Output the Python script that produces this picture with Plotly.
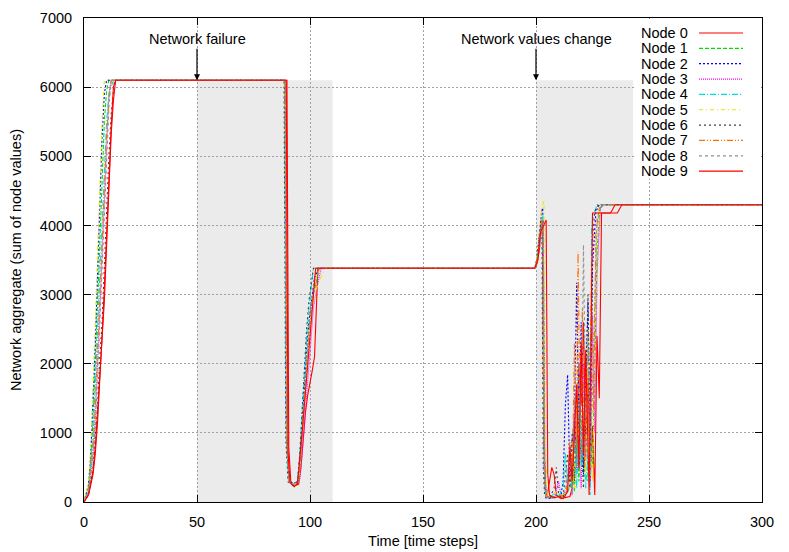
import plotly.graph_objects as go

# ---------------- data ----------------
node_names = ["Node 0", "Node 1", "Node 2", "Node 3", "Node 4",
              "Node 5", "Node 6", "Node 7", "Node 8", "Node 9"]

x_ticks = [0, 50, 100, 150, 200, 250, 300]
y_ticks = [0, 1000, 2000, 3000, 4000, 5000, 6000, 7000]

event_labels = ["Network failure", "Network values change"]
event_times = [50, 200]
event_level = 6100
shade_start = [50, 200]
shade_end = [110, 243]

node0_t = [0, 2, 4, 5, 6, 7, 8, 9, 10, 11, 12, 13, 14,
           89.8, 90.6, 91.5, 93, 95, 96, 97, 98, 99, 100, 101, 102, 103.5,
           199.5, 200.5, 201.5, 202.3, 202.8, 203.5, 204.3, 205, 206, 207, 208, 209, 211, 213, 215,
           216, 217, 218, 219, 220, 221, 222, 223, 224, 225, 226, 227, 228, 229, 236, 238, 300]
node0_v = [0, 120, 450, 800, 1300, 1850, 2450, 2900, 3700, 4500, 5300, 5800, 6100,
           6100, 800, 300, 230, 260, 500, 900, 1300, 1550, 1700, 1900, 2100, 3380,
           3380, 3450, 3650, 4080, 4000, 900, 120, 100, 300, 500, 400, 100, 50, 60, 80,
           200, 1200, 600, 2000, 1400, 2600, 900, 1800, 300, 1100, 100, 2400, 1500, 4180, 4180, 4300, 4300]

node1_t = [0, 2, 3, 4, 5, 6, 7, 8, 9, 10, 11,
           89.0, 89.8, 90.8, 93, 95, 96, 97, 98, 99, 100, 101, 103, 104,
           199.5, 200.5, 201.5, 202.5, 203.2, 203.8, 204.5, 207, 209, 211, 213, 215, 216, 217,
           218, 219, 220, 221, 222, 223, 224, 225, 226, 227, 228, 229.5, 300]
node1_v = [0, 200, 600, 1200, 2000, 2900, 3800, 4700, 5500, 5950, 6100,
           6100, 900, 300, 250, 300, 700, 1300, 1800, 2300, 2700, 2950, 3200, 3380,
           3380, 3500, 3750, 4050, 4100, 600, 80, 60, 90, 70, 120, 200, 600, 150,
           900, 300, 1200, 400, 1500, 300, 1100, 500, 2000, 3600, 4200, 4300, 4300]

node2_t = [0, 2, 3, 4, 5, 6, 7, 8, 9, 10,
           88.8, 89.6, 90.6, 92.5, 94.5, 95.5, 96.5, 97.5, 98.5, 99.5, 100.5, 102, 104,
           199.5, 200.5, 201.5, 202.5, 203, 203.6, 204.3, 207, 209, 211, 212, 213, 214, 215,
           216, 217, 218, 219, 220, 221, 222, 223, 224, 225, 226.5, 228, 300]
node2_v = [0, 250, 700, 1400, 2300, 3300, 4300, 5300, 5900, 6100,
           6100, 1000, 320, 260, 300, 650, 1150, 1700, 2200, 2600, 2900, 3250, 3380,
           3380, 3550, 3900, 4200, 4250, 500, 60, 50, 100, 80, 300, 1400, 1840, 300,
           900, 1200, 3170, 1000, 2600, 400, 1700, 2900, 600, 3400, 4200, 4300, 4300]

node3_t = [0, 2, 4, 5, 6, 7, 8, 9, 10, 11, 12,
           89.2, 90, 91, 93, 95.5, 96.5, 97.5, 98.5, 99.5, 100.5, 101.5, 103, 105,
           199.5, 200.5, 201.5, 202.5, 203.2, 204, 205, 208, 210, 211, 213, 215, 216, 217,
           218, 219, 220, 221, 222, 223, 224, 225, 226, 227, 228.5, 230, 300]
node3_v = [0, 150, 700, 1200, 2000, 2800, 3600, 4500, 5300, 5900, 6100,
           6100, 900, 300, 240, 320, 700, 1100, 1500, 2000, 2400, 2800, 3100, 3380,
           3380, 3480, 3700, 4000, 4050, 300, 60, 70, 300, 100, 80, 500, 100, 1300,
           400, 800, 200, 2000, 600, 1500, 200, 2700, 1000, 3300, 4250, 4300, 4300]

node4_t = [0, 2, 4, 5, 6, 7, 8, 9, 10, 11, 13,
           88.7, 89.5, 90.5, 92.5, 94.5, 95.5, 96.5, 97.5, 98.5, 99.5, 100.5, 101.5,
           199.5, 200.5, 201.5, 202.5, 203, 203.5, 204.2, 206, 208, 210, 212, 213, 214, 216,
           217, 218, 219, 220, 221, 222, 223, 224, 224.6, 225.5, 227, 300]
node4_v = [0, 180, 900, 1600, 2500, 3300, 4100, 4900, 5500, 5900, 6100,
           6100, 900, 300, 250, 300, 700, 1300, 1900, 2400, 2800, 3100, 3380,
           3380, 3520, 3800, 4100, 4150, 700, 90, 60, 120, 80, 200, 700, 150, 300,
           900, 200, 1400, 500, 1100, 200, 700, 100, 4000, 4150, 4300, 4300]

node5_t = [0, 2, 3, 4, 5, 6, 7, 8, 9,
           89.0, 89.8, 90.8, 93, 95, 96, 97, 98, 99, 100, 101.5, 103, 106.5,
           199.5, 200.5, 201.5, 202.5, 203.5, 204.2, 205, 207, 209, 211, 213, 215, 216, 217,
           218, 219, 220, 221, 222, 223, 224, 225, 226, 227, 228.5, 300]
node5_v = [0, 280, 800, 1600, 2600, 3600, 4600, 5500, 6100,
           6100, 800, 280, 240, 320, 750, 1250, 1750, 2200, 2600, 2900, 3100, 3380,
           3380, 3550, 3950, 4250, 4370, 800, 100, 80, 150, 60, 100, 300, 900, 200,
           1500, 700, 2100, 900, 400, 2500, 1000, 300, 2200, 3800, 4300, 4300]

node6_t = [0, 2, 4, 5, 6, 7, 8, 9, 10, 11, 12, 13, 13.5,
           88.5, 89.3, 90.3, 92.5, 94.5, 95.5, 96.5, 97.5, 98.5, 99.5, 100.5, 101.5,
           199.5, 200.3, 201, 202, 202.6, 203.2, 203.8, 206, 208, 209, 210, 212, 214, 215, 216,
           217, 218, 219, 220, 221, 222, 223, 224, 225, 226, 227.5, 300]
node6_v = [0, 100, 500, 900, 1400, 2100, 2600, 3400, 4300, 5000, 5600, 6000, 6100,
           6100, 900, 290, 240, 300, 700, 1300, 1900, 2500, 2900, 3150, 3380,
           3380, 3450, 3700, 4000, 4050, 500, 100, 50, 200, 500, 100, 60, 700, 200, 1000,
           300, 1700, 500, 900, 200, 1200, 3000, 800, 3800, 4200, 4300, 4300]

node7_t = [0, 2, 4, 5, 6, 7, 8, 9, 10, 11, 12,
           89.1, 89.9, 90.9, 93, 95, 96, 97, 98, 99, 100, 101, 102.5, 104,
           199.5, 200.5, 201.5, 202.5, 203, 203.6, 204.4, 207, 209, 211, 213, 214, 215, 216,
           217, 218, 218.6, 219.5, 220.5, 221.5, 222.5, 223.5, 224.5, 225.5, 226.5, 228, 230, 300]
node7_v = [0, 160, 800, 1400, 2200, 3000, 3800, 4600, 5300, 5800, 6100,
           6100, 850, 300, 250, 300, 650, 1150, 1650, 2150, 2550, 2900, 3200, 3380,
           3380, 3500, 3750, 4050, 4080, 600, 80, 70, 60, 100, 90, 300, 900, 200,
           2300, 900, 3620, 1200, 2800, 500, 1900, 700, 3200, 1300, 3900, 4250, 4300, 4300]

node8_t = [0, 2, 4, 5, 6, 7, 8, 9, 10, 11, 12,
           88.9, 89.7, 90.7, 93, 95, 96, 97, 98, 99, 100, 101, 102, 103,
           199.5, 200.5, 201.5, 202.5, 203.2, 203.9, 204.6, 207, 209, 211, 213, 215, 216, 217,
           218, 219, 220, 221, 222, 223, 224, 225, 226, 227, 229, 300]
node8_v = [0, 140, 650, 1100, 1800, 2600, 3400, 4200, 5000, 5700, 6100,
           6100, 900, 300, 250, 290, 700, 1250, 1800, 2300, 2700, 3000, 3250, 3380,
           3380, 3460, 3650, 3950, 4000, 400, 70, 60, 80, 90, 150, 700, 100, 1500,
           500, 2000, 600, 3720, 1200, 2400, 400, 1600, 3000, 4100, 4300, 4300]

node9_t = [0, 2, 4, 5, 6, 7, 8, 9, 10, 11, 12, 13, 14,
           89.5, 90.3, 91.2, 93, 94.5, 95.5, 96.5, 97.5, 98.5, 99.5, 100.5, 101.5, 102.5,
           199.5, 200.8, 202, 204.5, 205.2, 206, 208, 210, 212, 214, 215, 216, 218, 219,
           220, 221, 222, 223.5, 225, 233, 235, 300]
node9_v = [0, 100, 400, 700, 1150, 1700, 2400, 3100, 3900, 4700, 5400, 6000, 6100,
           6100, 700, 280, 220, 270, 600, 1000, 1400, 1800, 2200, 2500, 2900, 3380,
           3380, 3500, 3900, 4080, 400, 100, 60, 80, 50, 150, 800, 300, 1700, 500,
           2300, 700, 2200, 100, 4180, 4180, 4300, 4300]

node_t = [node0_t, node1_t, node2_t, node3_t, node4_t,
          node5_t, node6_t, node7_t, node8_t, node9_t]
node_v = [node0_v, node1_v, node2_v, node3_v, node4_v,
          node5_v, node6_v, node7_v, node8_v, node9_v]

# ---------------- styles ----------------
colors = ["#ff0000", "#00e000", "#0000ff", "#ff00ff", "#00e0e0",
          "#e8e800", "#404040", "#ff7000", "#909090", "#ff0000"]
dashes = ["solid", "4px,2px", "2px,2px", "1px,1px", "6px,2px,1px,2px",
          "4px,3px,1px,3px", "2px,3px", "6px,2px,1px,2px,1px,2px", "3px,3px", "solid"]

FONT = "Liberation Sans, Arial, Helvetica, sans-serif"
FS = 14.5

# the page body adds an 8px offset; figure sized to fill the rest of the window
OFF = 8
W, H = 789 - OFF, 552 - OFF
# plot-area edges in window pixels
L, R, T, B = 84, 762, 18, 502


def px(xp):
    return (xp - L) / (R - L)


def py(yp):
    return (B - yp) / (B - T)


fig = go.Figure()

shapes = []
for s0, s1 in zip(shade_start, shade_end):
    shapes.append(dict(type="rect", xref="x", yref="y", x0=s0, x1=s1, y0=0, y1=event_level,
                       fillcolor="#ebebeb", line=dict(width=0), layer="below"))

for i, name in enumerate(node_names):
    fig.add_trace(go.Scatter(x=node_t[i], y=node_v[i], mode="lines", name=name,
                             showlegend=False,
                             line=dict(color=colors[i], width=1.1, dash=dashes[i])))

# manual gnuplot-style legend (text left, sample right)
shapes.append(dict(type="rect", xref="paper", yref="paper", x0=px(634), x1=px(761.5),
                   y0=py(179), y1=py(18.5), fillcolor="white", line=dict(width=0), layer="above"))
annotations = []
row0, drow = 33, 15.35
for i, name in enumerate(node_names):
    yy = row0 + i * drow
    shapes.append(dict(type="line", xref="paper", yref="paper", x0=px(699), x1=px(743),
                       y0=py(yy), y1=py(yy), layer="above",
                       line=dict(color=colors[i], width=1.2, dash=dashes[i])))
    annotations.append(dict(xref="paper", yref="paper", x=px(690), y=py(yy), text=name,
                            showarrow=False, xanchor="right", yanchor="middle",
                            font=dict(family=FONT, size=FS, color="black")))

for lab, t in zip(event_labels, event_times):
    annotations.append(dict(x=t, y=event_level, xref="x", yref="y", text=lab,
                            showarrow=True, arrowhead=2, arrowsize=1, arrowwidth=1.2,
                            arrowcolor="black", ax=0, ay=-41, standoff=0,
                            font=dict(family=FONT, size=FS, color="black")))

fig.update_layout(
    width=W, height=H,
    margin=dict(l=L - OFF, r=(W + OFF) - R, t=T - OFF, b=(H + OFF) - B),
    paper_bgcolor="white", plot_bgcolor="white",
    font=dict(family=FONT, size=FS, color="black"),
    shapes=shapes, annotations=annotations, showlegend=False,
    xaxis=dict(range=[0, 300], tickvals=x_ticks, ticktext=[str(v) for v in x_ticks],
               ticks="inside", ticklen=7, tickcolor="black", showline=True,
               linecolor="black", linewidth=1, mirror="ticks",
               showgrid=True, gridcolor="#a0a0a0", griddash="2px,2px", gridwidth=1,
               zeroline=False, ticklabelstandoff=7, automargin=False,
               title=dict(text="Time [time steps]", standoff=6,
                          font=dict(family=FONT, size=FS))),
    yaxis=dict(range=[0, 7000], tickvals=y_ticks, ticktext=[str(v) for v in y_ticks],
               ticks="inside", ticklen=7, tickcolor="black", showline=True,
               linecolor="black", linewidth=1, mirror="ticks",
               showgrid=True, gridcolor="#a0a0a0", griddash="2px,2px", gridwidth=1,
               zeroline=False, ticklabelstandoff=8, automargin=False,
               title=dict(text="Network aggregate (sum of node values)", standoff=18,
                          font=dict(family=FONT, size=FS))),
)

fig.write_html("out.html")
